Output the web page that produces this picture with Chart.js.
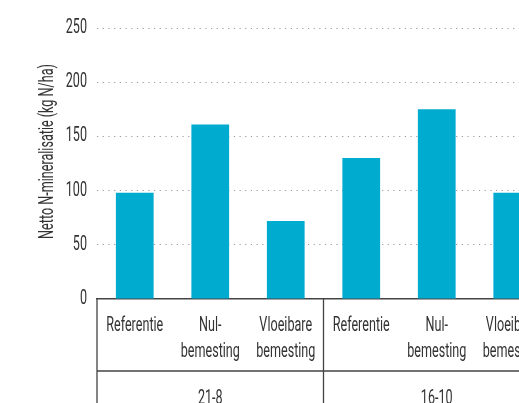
<!DOCTYPE html>
<html>
<head>
<meta charset="utf-8">
<script src="https://cdn.jsdelivr.net/npm/chart.js@4"></script>
<style>
  html, body { margin: 0; padding: 0; overflow: hidden; background: #fff; }
  canvas { display: block; }
</style>
</head>
<body>
<canvas id="minChart" width="560" height="403"></canvas>
<script>
// data
const categories = [
  ["Referentie"], ["Nul-", "bemesting"], ["Vloeibare", "bemesting"],
  ["Referentie"], ["Nul-", "bemesting"], ["Vloeibare", "bemesting"]
];
const values = [98, 161, 72, 130, 175, 98];
const groups = ["21-8", "16-10"];
const groupSize = 3;
const yTicks = [0, 50, 100, 150, 200, 250];
const yTitle = "Netto N-mineralisatie (kg N/ha)";

const FONT = "21px Roboto, 'Liberation Sans', sans-serif";
const TEXT = "#333";

// no condensed font is installed, so squeeze the text horizontally
let SX = 0.62;
function condensedText(ctx, text, x, y, align) {
  ctx.save();
  ctx.translate(x, y);
  ctx.scale(SX, 1);
  ctx.textAlign = align;
  ctx.fillText(text, 0, 0);
  ctx.restore();
}

// labels, axis title and the table under the x axis
const tablePlugin = {
  id: "table",
  afterDraw(chart) {
    const ctx = chart.ctx;
    const area = chart.chartArea;
    const x = chart.scales.x;
    const y = chart.scales.y;
    const h = chart.height;
    const rowY = area.bottom + 72;

    ctx.save();
    ctx.font = FONT;
    SX = 57 / ctx.measureText("Referentie").width;

    ctx.strokeStyle = "#444";
    ctx.lineWidth = 1.3;
    ctx.beginPath();
    ctx.moveTo(area.left, area.bottom);
    ctx.lineTo(area.left, h);
    ctx.moveTo(area.left, rowY);
    ctx.lineTo(chart.width, rowY);
    for (let g = 1; g < groups.length; g++) {
      const i = g * groupSize;
      const sx = (x.getPixelForValue(i - 1) + x.getPixelForValue(i)) / 2;
      ctx.moveTo(sx, area.bottom);
      ctx.lineTo(sx, h);
    }
    ctx.stroke();

    ctx.fillStyle = TEXT;
    ctx.textBaseline = "alphabetic";

    // y tick labels
    yTicks.forEach(v => {
      condensedText(ctx, String(v), area.left - 10, y.getPixelForValue(v) + 5, "right");
    });

    // x category labels
    categories.forEach((lines, i) => {
      const cx = x.getPixelForValue(i);
      lines.forEach((t, k) => {
        condensedText(ctx, t, cx, area.bottom + 32 + 26 * k, "center");
      });
    });

    // group labels
    groups.forEach((g, k) => {
      const a = x.getPixelForValue(k * groupSize);
      const b = x.getPixelForValue(k * groupSize + groupSize - 1);
      condensedText(ctx, g, (a + b) / 2, rowY + 33, "center");
    });

    // y axis title
    ctx.save();
    ctx.translate(53, (area.top + area.bottom) / 2 - 12);
    ctx.rotate(-Math.PI / 2);
    condensedText(ctx, yTitle, 0, 0, "center");
    ctx.restore();

    ctx.restore();
  }
};

const ctx = document.getElementById("minChart").getContext("2d");
new Chart(ctx, {
  type: "bar",
  data: {
    labels: categories,
    datasets: [{
      data: values,
      backgroundColor: "#00abd0",
      borderWidth: 0,
      barPercentage: 0.5,
      categoryPercentage: 1
    }]
  },
  options: {
    responsive: false,
    animation: false,
    layout: { padding: { left: 30, right: 10, top: 28, bottom: 0 } },
    plugins: {
      legend: { display: false },
      tooltip: { enabled: false }
    },
    scales: {
      x: {
        grid: { display: false, drawTicks: false },
        border: { display: true, color: "#444", width: 1.5 },
        ticks: { display: false },
        afterFit(scale) { scale.height = 104; }
      },
      y: {
        min: 0,
        max: 250,
        afterBuildTicks(scale) {
          scale.ticks = yTicks.map(v => ({ value: v }));
        },
        grid: {
          drawTicks: false,
          color: c => (c.tick && c.tick.value === 0 ? "rgba(0,0,0,0)" : "#999"),
          lineWidth: 1
        },
        border: { display: false, dash: [1.2, 4.5] },
        ticks: { display: false },
        afterFit(scale) { scale.width = 67; }
      }
    }
  },
  plugins: [tablePlugin]
});
</script>
</body>
</html>
